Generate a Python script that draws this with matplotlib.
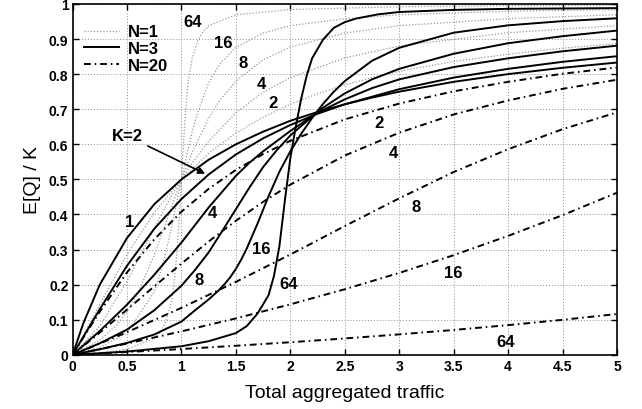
import matplotlib
matplotlib.use('Agg')
import matplotlib.pyplot as plt

plt.rcParams['font.family'] = ['Liberation Sans', 'DejaVu Sans']

# ---- K = 1 (identical for every N) ----
x_k1 = [0, 0.1, 0.25, 0.5, 0.75, 1.0, 1.25, 1.5, 1.75, 2.0, 2.25, 2.5, 2.75, 3.0, 3.5, 4.0, 4.5, 5.0]
y_k1 = [0, 0.091, 0.2, 0.333, 0.429, 0.5, 0.556, 0.6, 0.636, 0.667, 0.692, 0.714, 0.733, 0.75, 0.778, 0.8, 0.818, 0.833]

# ---- N = 1 (dotted grey) ----
x_n1_k2 = [0, 0.25, 0.5, 0.75, 1.0, 1.25, 1.5, 1.75, 2.0, 2.25, 2.5, 2.75, 3.0, 3.5, 4.0, 4.5, 5.0]
y_n1_k2 = [0, 0.143, 0.286, 0.405, 0.5, 0.574, 0.632, 0.677, 0.714, 0.744, 0.769, 0.790, 0.808, 0.836, 0.857, 0.874, 0.887]
x_n1_k4 = [0, 0.25, 0.5, 0.6, 0.75, 0.9, 1.0, 1.1, 1.25, 1.5, 1.75, 2.0, 2.5, 3.0, 4.0, 5.0]
y_n1_k4 = [0, 0.082, 0.210, 0.270, 0.361, 0.448, 0.5, 0.548, 0.609, 0.690, 0.748, 0.790, 0.846, 0.880, 0.918, 0.938]
x_n1_k8 = [0, 0.25, 0.4, 0.5, 0.6, 0.75, 0.9, 1.0, 1.1, 1.25, 1.35, 1.5, 1.75, 2.0, 2.5, 3.0, 4.0, 5.0]
y_n1_k8 = [0, 0.042, 0.083, 0.123, 0.176, 0.284, 0.414, 0.5, 0.578, 0.674, 0.724, 0.780, 0.841, 0.877, 0.917, 0.938, 0.958, 0.969]
x_n1_k16 = [0, 0.25, 0.5, 0.75, 0.8, 0.85, 0.9, 0.95, 1.0, 1.05, 1.1, 1.15, 1.25, 1.35, 1.5, 1.75, 2.0, 2.5, 3.0, 4.0, 5.0]
y_n1_k16 = [0, 0.021, 0.0625, 0.179, 0.226, 0.283, 0.350, 0.424, 0.5, 0.572, 0.637, 0.692, 0.775, 0.828, 0.876, 0.917, 0.938, 0.958, 0.969, 0.979, 0.984]
x_n1_k64 = [0, 0.25, 0.5, 0.75, 0.8, 0.85, 0.9, 0.92, 0.94, 0.96, 0.97, 0.98, 0.99, 1.0, 1.01, 1.02, 1.03, 1.04, 1.06, 1.08, 1.1, 1.15, 1.2, 1.25, 1.5, 2.0, 3.0, 4.0, 5.0]
y_n1_k64 = [0, 0.005, 0.016, 0.047, 0.0625, 0.089, 0.14, 0.175, 0.226, 0.298, 0.343, 0.392, 0.445, 0.5, 0.555, 0.606, 0.657, 0.702, 0.774, 0.812, 0.846, 0.896, 0.922, 0.938, 0.969, 0.984, 0.992, 0.995, 0.996]

# ---- N = 3 (solid black) ----
x_n3_k2 = [0, 0.25, 0.5, 0.75, 1.0, 1.25, 1.5, 1.75, 2.0, 2.25, 2.5, 3.0, 3.5, 4.0, 4.5, 5.0]
y_n3_k2 = [0, 0.130, 0.254, 0.359, 0.444, 0.514, 0.571, 0.617, 0.655, 0.687, 0.714, 0.757, 0.790, 0.815, 0.835, 0.851]
x_n3_k4 = [0, 0.25, 0.5, 0.75, 1.0, 1.125, 1.25, 1.5, 1.63, 1.75, 2.0, 2.25, 2.5, 2.75, 3.0, 3.5, 4.0, 4.5, 5.0]
y_n3_k4 = [0, 0.068, 0.143, 0.228, 0.32, 0.37, 0.42, 0.51, 0.549, 0.58, 0.638, 0.69, 0.728, 0.76, 0.785, 0.82, 0.845, 0.865, 0.881]
x_n3_k8 = [0, 0.25, 0.5, 0.75, 1.0, 1.125, 1.25, 1.375, 1.5, 1.625, 1.75, 1.875, 2.0, 2.27, 2.5, 2.75, 3.0, 3.5, 4.0, 4.5, 5.0]
y_n3_k8 = [0, 0.033, 0.072, 0.127, 0.197, 0.242, 0.292, 0.353, 0.415, 0.477, 0.535, 0.583, 0.625, 0.698, 0.745, 0.785, 0.815, 0.858, 0.888, 0.908, 0.924]
x_n3_k16 = [0, 0.25, 0.5, 0.75, 1.0, 1.125, 1.25, 1.34, 1.4, 1.45, 1.5, 1.55, 1.6, 1.7, 1.8, 1.9, 2.0, 2.1, 2.2, 2.3, 2.4, 2.5, 2.75, 3.0, 3.5, 4.0, 4.5, 5.0]
y_n3_k16 = [0, 0.016, 0.034, 0.058, 0.095, 0.127, 0.158, 0.183, 0.203, 0.222, 0.245, 0.272, 0.303, 0.375, 0.452, 0.522, 0.58, 0.63, 0.675, 0.715, 0.75, 0.78, 0.838, 0.875, 0.918, 0.939, 0.951, 0.959]
x_n3_k64 = [0, 0.5, 1.0, 1.25, 1.5, 1.6, 1.7, 1.8, 1.85, 1.9, 1.95, 2.0, 2.05, 2.1, 2.15, 2.2, 2.3, 2.4, 2.5, 2.6, 2.8, 3.0, 3.5, 4.0, 4.5, 5.0]
y_n3_k64 = [0, 0.0095, 0.0245, 0.039, 0.062, 0.082, 0.118, 0.17, 0.225, 0.31, 0.44, 0.56, 0.65, 0.73, 0.795, 0.845, 0.898, 0.932, 0.948, 0.958, 0.97, 0.977, 0.983, 0.986, 0.987, 0.988]

# ---- N = 20 (dash-dot black) ----
x_n20_k2 = [0, 0.1, 0.25, 0.5, 0.75, 1.0, 1.25, 1.5, 1.75, 2.0, 2.5, 3.0, 3.5, 4.0, 4.5, 5.0]
y_n20_k2 = [0, 0.050, 0.123, 0.235, 0.329, 0.408, 0.473, 0.527, 0.572, 0.610, 0.671, 0.716, 0.751, 0.778, 0.801, 0.819]
x_n20_k4 = [0, 0.25, 0.5, 0.75, 1.0, 1.25, 1.5, 1.75, 2.0, 2.5, 3.0, 3.5, 4.0, 4.5, 5.0]
y_n20_k4 = [0, 0.0635, 0.129, 0.195, 0.260, 0.323, 0.382, 0.436, 0.485, 0.568, 0.633, 0.685, 0.725, 0.758, 0.784]
x_n20_k8 = [0, 0.5, 1.0, 1.5, 2.0, 2.5, 3.0, 3.5, 4.0, 4.5, 5.0]
y_n20_k8 = [0, 0.0646, 0.134, 0.208, 0.286, 0.367, 0.446, 0.521, 0.586, 0.643, 0.691]
x_n20_k16 = [0, 0.5, 1.0, 1.5, 2.0, 2.5, 3.0, 3.5, 4.0, 4.5, 5.0]
y_n20_k16 = [0, 0.0323, 0.067, 0.104, 0.144, 0.187, 0.2335, 0.284, 0.339, 0.398, 0.462]
x_n20_k64 = [0, 0.5, 1.0, 1.5, 2.0, 2.5, 3.0, 3.5, 4.0, 4.5, 5.0]
y_n20_k64 = [0, 0.0081, 0.0167, 0.026, 0.036, 0.0468, 0.0584, 0.071, 0.0848, 0.0999, 0.1164]

# curve labels (text, x, y)
n1_labels = [("64", 1.106, 0.949), ("16", 1.38, 0.889), ("8", 1.565, 0.832), ("4", 1.73, 0.772), ("2", 1.84, 0.718)]
n3_labels = [("1", 0.52, 0.38), ("4", 1.28, 0.405), ("8", 1.165, 0.216), ("16", 1.73, 0.302), ("64", 1.98, 0.202)]
n20_labels = [("2", 2.81, 0.661), ("4", 2.95, 0.578), ("8", 3.16, 0.424), ("16", 3.5, 0.234), ("64", 3.98, 0.037)]

fig = plt.figure(figsize=(6.42, 4.10), dpi=100)
ax = fig.add_axes([0.113, 0.132, 0.848, 0.856])

dot_kw = dict(color='0.6', linestyle=(0, (1, 1.5)), linewidth=0.9)
sol_kw = dict(color='black', linestyle='-', linewidth=1.4)
dd_kw = dict(color='black', linestyle=(0, (3.5, 2, 0.8, 2)), linewidth=1.4)

for xs, ys in [(x_n1_k2, y_n1_k2), (x_n1_k4, y_n1_k4), (x_n1_k8, y_n1_k8),
               (x_n1_k16, y_n1_k16), (x_n1_k64, y_n1_k64)]:
    ax.plot(xs, ys, **dot_kw)
for xs, ys in [(x_k1, y_k1), (x_n3_k2, y_n3_k2), (x_n3_k4, y_n3_k4), (x_n3_k8, y_n3_k8),
               (x_n3_k16, y_n3_k16), (x_n3_k64, y_n3_k64)]:
    ax.plot(xs, ys, **sol_kw)
for xs, ys in [(x_n20_k2, y_n20_k2), (x_n20_k4, y_n20_k4), (x_n20_k8, y_n20_k8),
               (x_n20_k16, y_n20_k16), (x_n20_k64, y_n20_k64)]:
    ax.plot(xs, ys, **dd_kw)

# legend proxies
h1, = ax.plot([], [], **dot_kw)
h3, = ax.plot([], [], **sol_kw)
h20, = ax.plot([], [], **dd_kw)
ax.legend([h1, h3, h20], ['N=1', 'N=3', 'N=20'], loc='upper left',
          bbox_to_anchor=(0.0, 0.975), frameon=False,
          prop={'weight': 'bold', 'size': 12}, handlelength=2.1,
          handletextpad=0.5, labelspacing=0.1, borderaxespad=0.3)

lab_kw = dict(ha='center', va='center', fontsize=12, fontweight='bold')
for t, x, y in n1_labels + n3_labels + n20_labels:
    ax.text(x, y, t, **lab_kw)

ax.annotate('K=2', xy=(1.218, 0.516), xytext=(0.5, 0.624),
            ha='center', va='center', fontsize=12, fontweight='bold',
            arrowprops=dict(arrowstyle='-|>', color='black', lw=1.2,
                            mutation_scale=10, shrinkA=2, shrinkB=0))

ax.set_xlim(0, 5)
ax.set_ylim(0, 1)
xt = [0, 0.5, 1, 1.5, 2, 2.5, 3, 3.5, 4, 4.5, 5]
yt = [0, 0.1, 0.2, 0.3, 0.4, 0.5, 0.6, 0.7, 0.8, 0.9, 1]
ax.set_xticks(xt)
ax.set_xticklabels(['0', '0.5', '1', '1.5', '2', '2.5', '3', '3.5', '4', '4.5', '5'])
ax.set_yticks(yt)
ax.set_yticklabels(['0', '0.1', '0.2', '0.3', '0.4', '0.5', '0.6', '0.7', '0.8', '0.9', '1'])
ax.tick_params(direction='in', top=True, right=True, length=4, width=1,
               labelsize=10, pad=3)
for lbl in ax.get_xticklabels() + ax.get_yticklabels():
    lbl.set_fontweight('bold')
ax.grid(True, color='0.55', linestyle=(0, (1, 2)), linewidth=0.7)
for sp in ax.spines.values():
    sp.set_linewidth(1.2)

ax.set_xlabel('Total aggregated traffic', fontsize=14, labelpad=8)
ax.set_ylabel('E[Q] / K', fontsize=14, labelpad=6)

fig.savefig('out.png', dpi=100)
